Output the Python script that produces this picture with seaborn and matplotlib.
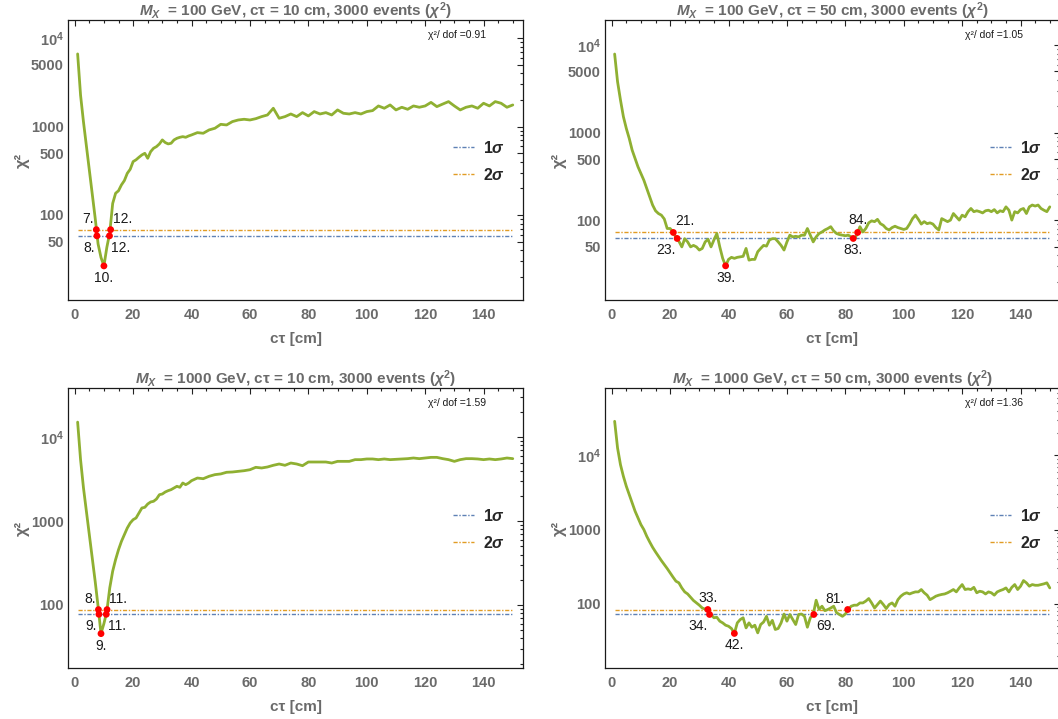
import matplotlib
matplotlib.use("Agg")
import numpy as np
import pandas as pd
import matplotlib.pyplot as plt
import seaborn as sns
from matplotlib.lines import Line2D
from matplotlib.ticker import FixedLocator, FixedFormatter, LogLocator, NullFormatter, MultipleLocator

sns.set_theme(style="white")
plt.rcParams['font.family'] = ['Liberation Sans', 'DejaVu Sans']
plt.rcParams['font.weight'] = 'bold'
plt.rcParams['mathtext.fontset'] = 'custom'
plt.rcParams['mathtext.rm'] = 'Liberation Sans:bold'
plt.rcParams['mathtext.it'] = 'Liberation Sans:italic:bold'
plt.rcParams['mathtext.bf'] = 'Liberation Sans:bold'

# ---------------- data ----------------
ct_coarse = list(range(1, 41)) + list(range(42, 151, 2))
ct_full = list(range(1, 151))

chi2_m100_ct10 = [6650, 2270, 1130, 604, 323, 173, 92.5, 47, 33, 26.5, 43, 63, 135, 176, 188, 219, 245, 296, 329, 402,
                  421, 450, 478, 499, 438, 521, 569, 594, 637, 707, 660, 637, 648, 707, 738, 757, 770, 757, 784, 805,
                  855, 841, 917, 958, 1062, 1044, 1140, 1189, 1211, 1189, 1230, 1298, 1355, 1614, 1243, 1298, 1390,
                  1298, 1440, 1321, 1479, 1390, 1440, 1355, 1545, 1416, 1390, 1440, 1390, 1479, 1518, 1714, 1614,
                  1759, 1545, 1656, 1571, 1714, 1656, 1714, 1880, 1684, 1800, 1919, 1714, 1545, 1656, 1714, 1614,
                  1838, 1714, 1919, 1838, 1656, 1759]

chi2_m100_ct50 = [7900, 3820, 2360, 1525, 1120, 861, 634, 509, 409, 343,
                  288, 232, 186, 150, 129, 120, 115, 104, 81, 81,
                  74, 64, 58, 50, 62, 57, 50, 52, 50, 46,
                  48, 57, 61, 50, 60, 71, 50, 37, 30.4, 36,
                  38, 37, 38, 38.5, 39, 48, 35.3, 36, 36, 44,
                  48, 52, 51, 60, 62, 62, 57, 52, 46, 57,
                  68, 65, 66, 65, 68, 68, 81, 68, 57, 65,
                  71, 74, 78, 81, 85, 76, 71, 69, 68, 67,
                  68, 65, 60, 70, 85, 74, 81, 94, 99, 97,
                  103, 92, 88, 81, 78, 83, 86, 83, 81, 79,
                  81, 91, 105, 115, 103, 91, 97, 92, 94, 91,
                  83, 78, 105, 101, 97, 101, 120, 110, 101, 115,
                  110, 126, 137, 126, 129, 126, 122, 129, 131, 126,
                  133, 122, 129, 126, 143, 131, 101, 126, 122, 133,
                  137, 120, 143, 150, 146, 150, 137, 131, 126, 143]

chi2_m1000_ct10 = [15200, 5420, 2490, 1310, 690, 364, 192, 96, 45.5, 60, 84, 160, 253, 348, 457, 574, 690, 828, 951, 1042,
                   1091, 1251, 1436, 1462, 1603, 1694, 1726, 1838, 2070, 2109, 2229, 2312, 2377, 2489, 2606, 2535, 2853,
                   2724, 2850, 3040,
                   3270, 3210, 3430, 3590, 3660, 3830, 3860, 3930, 4000, 4110, 4390, 4310, 4430, 4640, 4810, 4640, 4940,
                   4810, 4590, 5080, 5080, 5080, 5080, 4940, 5170, 5170, 5170, 5420, 5420, 5520, 5520, 5420, 5520, 5420,
                   5470, 5520, 5570, 5670, 5570, 5670, 5770, 5770, 5570, 5420, 5170, 5420, 5570, 5570, 5520, 5420, 5520,
                   5420, 5520, 5670, 5570]

chi2_m1000_ct50 = [28700, 12550, 7480, 5210, 3830, 2960, 2290, 1770, 1436, 1167,
                   1000, 813, 682, 578, 501, 438, 383, 338, 299, 261,
                   229, 202, 192, 164, 145, 136, 123, 111, 103, 96,
                   88, 85, 83, 72, 65, 66, 58.5, 55.5, 51.6, 50,
                   46.6, 40, 55.5, 61.5, 65, 47.5, 55.5, 48.5, 51.6, 40.7,
                   52.7, 57, 68, 51.6, 60, 45.2, 46.6, 55.5, 73, 58.5,
                   72, 61.5, 52.7, 72, 73, 68, 48.5, 65, 72, 112,
                   84, 93, 81, 84, 88, 93, 76, 72, 68, 73,
                   84, 93, 96, 96, 103, 103, 109, 118, 103, 88,
                   98, 109, 98, 86.5, 98, 103, 93, 114, 127, 136,
                   141, 136, 141, 145, 145, 156, 141, 131, 114, 120,
                   127, 131, 134, 136, 141, 148, 156, 145, 164, 182,
                   156, 159, 156, 167, 141, 148, 145, 136, 145, 141,
                   131, 145, 151, 156, 164, 145, 167, 182, 156, 173,
                   206, 192, 173, 182, 178, 178, 182, 186, 192, 164]

# 1 sigma / 2 sigma levels
sigma1 = [58, 62.4, 77.4, 72]
sigma2 = [68.2, 73, 88, 84]

# marked points (crossings and minimum)
marks_x = [[7.4, 7.6, 10, 12.3, 11.9],
           [21.1, 22.4, 39, 82.7, 84.2],
           [8.12, 8.29, 9, 11.07, 10.8],
           [32.9, 33.5, 42, 69.2, 80.8]]
marks_y = [[68.2, 58, 26.5, 68.2, 58],
           [73, 62.4, 30.4, 62.4, 73],
           [88, 77.4, 45.5, 88, 77.4],
           [84, 72, 40, 72, 84]]
marks_lbl = [["7.", "8.", "10.", "12.", "12."],
             ["21.", "23.", "39.", "83.", "84."],
             ["8.", "9.", "9.", "11.", "11."],
             ["33.", "34.", "42.", "69.", "81."]]
marks_pos = [['al', 'bl', 'b', 'ar', 'br'],
             ['ar', 'bl', 'b', 'b', 'a'],
             ['al', 'bl', 'b', 'ar', 'br'],
             ['a', 'bl', 'b', 'br', 'al']]

titles = [r'$M_X$  = 100 GeV, cτ = 10 cm, 3000 events ($\chi^2$)',
          r'$M_X$  = 100 GeV, cτ = 50 cm, 3000 events ($\chi^2$)',
          r'$M_X$  = 1000 GeV, cτ = 10 cm, 3000 events ($\chi^2$)',
          r'$M_X$  = 1000 GeV, cτ = 50 cm, 3000 events ($\chi^2$)']
dof_vals = ["0.91", "1.05", "1.59", "1.36"]

ytick_vals = [[50, 100, 500, 1000, 5000, 10000],
              [50, 100, 500, 1000, 5000, 10000],
              [100, 1000, 10000],
              [100, 1000, 10000]]
ytick_lbls = [["50", "100", "500", "1000", "5000", r"$10^{4}$"],
              ["50", "100", "500", "1000", "5000", r"$10^{4}$"],
              ["100", "1000", r"$10^{4}$"],
              ["100", "1000", r"$10^{4}$"]]

# ---------------- style ----------------
GREEN = '#8FB032'
BLUE = '#5E81B5'
ORANGE = '#E19C24'
GRAY = '#6a6a6a'
DASHDOT = (0, (3, 1.2, 1, 1.2))

ylims = [(10.9, 16100), (12.4, 19300), (17.7, 38800), (13.7, 80600)]
W, H = 1058, 719
rects_px = [(68, 20), (605, 20), (68, 388), (605, 388)]
AX_W, AX_H = 455, 280

offsets = {'a': (0, 5, 'center', 'bottom'), 'b': (0, -5, 'center', 'top'),
           'al': (-3, 4, 'right', 'bottom'), 'ar': (2, 4, 'left', 'bottom'),
           'bl': (-2, -5, 'right', 'top'), 'br': (2, -5, 'left', 'top')}

fig = plt.figure(figsize=(W / 100, H / 100), dpi=100)

panels = [(ct_coarse, chi2_m100_ct10), (ct_full, chi2_m100_ct50),
          (ct_coarse, chi2_m1000_ct10), (ct_full, chi2_m1000_ct50)]

for i, (ct, chi2) in enumerate(panels):
    l, t = rects_px[i]
    ax = fig.add_axes([l / W, 1 - (t + AX_H) / H, AX_W / W, AX_H / H])
    df = pd.DataFrame({'ct': ct, 'chi2': chi2})
    ax.hlines([sigma1[i]], ct[0], ct[-1], colors=BLUE, linestyles=DASHDOT, lw=1.0, zorder=2)
    ax.hlines([sigma2[i]], ct[0], ct[-1], colors=ORANGE, linestyles=DASHDOT, lw=1.0, zorder=2)
    sns.lineplot(data=df, x='ct', y='chi2', ax=ax, color=GREEN, lw=2.0,
                 estimator=None, sort=False, zorder=3)
    sns.scatterplot(x=marks_x[i], y=marks_y[i], ax=ax, color='#ff0000', s=24,
                    edgecolor='none', linewidth=0, zorder=5)
    for x, y, lbl, pos in zip(marks_x[i], marks_y[i], marks_lbl[i], marks_pos[i]):
        dx, dy, ha, va = offsets[pos]
        ax.annotate(lbl, (x, y), xytext=(dx, dy), textcoords='offset pixels',
                    ha=ha, va=va, fontsize=10, fontweight='normal', color='#1a1a1a', zorder=6)

    ax.set_yscale('log')
    ax.set_xlim(-2.3, 153.5)
    ax.set_ylim(*ylims[i])

    ax.xaxis.set_major_locator(MultipleLocator(20))
    ax.xaxis.set_minor_locator(MultipleLocator(5))
    ax.yaxis.set_major_locator(FixedLocator(ytick_vals[i]))
    ax.yaxis.set_major_formatter(FixedFormatter(ytick_lbls[i]))
    ax.yaxis.set_minor_locator(LogLocator(base=10, subs=np.arange(2, 10)))
    ax.yaxis.set_minor_formatter(NullFormatter())

    ax.tick_params(axis='both', which='both', direction='in', top=True, right=True,
                   labeltop=False, labelright=False, color='#222222', width=0.8,
                   labelcolor=GRAY, labelsize=10.5)
    ax.tick_params(axis='both', which='major', length=4.0)
    ax.tick_params(axis='both', which='minor', length=2.2)
    ax.tick_params(axis='x', which='major', pad=6)
    ax.tick_params(axis='y', which='major', pad=3)

    for sp in ax.spines.values():
        sp.set_color('#1a1a1a')
        sp.set_linewidth(0.9)

    ax.set_xlabel('cτ [cm]', color=GRAY, fontsize=11, fontweight='bold', labelpad=7)
    ax.set_ylabel('χ²', color=GRAY, fontsize=12, fontweight='bold', labelpad=1)
    ax.set_title(titles[i], color=GRAY, fontsize=11, fontweight='bold', pad=3)

    ax.text(0.855, 0.946, 'χ²/ dof =' + dof_vals[i], transform=ax.transAxes,
            ha='center', va='center', fontsize=7.5, fontweight='normal', color='#1a1a1a')

    handles = [Line2D([], [], color=BLUE, ls=DASHDOT, lw=1.0),
               Line2D([], [], color=ORANGE, ls=DASHDOT, lw=1.0)]
    ax.legend(handles, [r'$1\sigma$', r'$2\sigma$'], loc='center left',
              bbox_to_anchor=(0.846, 0.496), frameon=False, handlelength=1.3,
              handletextpad=0.6, labelspacing=0.7, borderaxespad=0, borderpad=0,
              prop={'size': 11.5})

fig.savefig('out.png', dpi=100)
